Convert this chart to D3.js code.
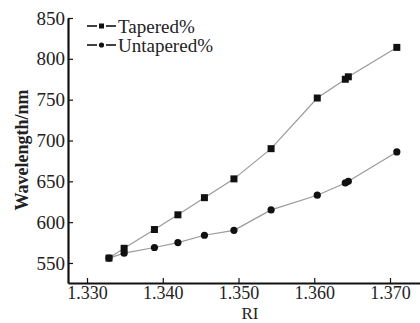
<!DOCTYPE html>
<html>
<head>
<meta charset="utf-8">
<script src="https://cdn.jsdelivr.net/npm/d3@7"></script>
<style>
  body { margin: 0; background: #fff; }
  text { font-family: "Liberation Serif", "DejaVu Serif", serif; }
</style>
</head>
<body>
<svg width="420" height="323"></svg>
<script>
// refractive index readings
var ri = [1.3329, 1.3349, 1.3389, 1.3420, 1.3455, 1.3494, 1.3543, 1.3604, 1.3641, 1.3645, 1.3709];
var tapered = [556, 568, 591, 609, 630, 653, 690, 752, 775, 778, 814];
var untapered = [556, 562, 569, 575, 584, 590, 615, 633, 648, 650, 686];
var xTicks = [1.330, 1.340, 1.350, 1.360, 1.370];
var yTicks = [550, 600, 650, 700, 750, 800, 850];
var seriesNames = ["Tapered%", "Untapered%"];

var svg = d3.select("svg");

var x = d3.scaleLinear().domain([1.32749, 1.37396]).range([68, 420]);
var y = d3.scaleLinear().domain([525.5, 850]).range([283, 18]);

// axes, ticks pointing inward
var xAxis = svg.append("g")
    .attr("transform", "translate(0,283)")
    .call(d3.axisBottom(x).tickValues(xTicks).tickFormat(d3.format(".3f"))
      .tickSizeInner(-5).tickSizeOuter(0).tickPadding(3));

var yAxis = svg.append("g")
    .attr("transform", "translate(68,0)")
    .call(d3.axisLeft(y).tickValues(yTicks)
      .tickSizeInner(-5).tickSizeOuter(0).tickPadding(3));

svg.selectAll(".domain").attr("stroke", "#111").attr("stroke-width", 2.2);
svg.selectAll(".tick line").attr("stroke", "#111").attr("stroke-width", 1.2);
svg.selectAll(".tick text")
    .attr("font-family", "Liberation Serif")
    .attr("font-size", 19)
    .attr("fill", "#222");
xAxis.selectAll(".tick text").attr("font-size", 18).attr("dy", "0.71em");

// axis titles
svg.append("text")
    .attr("x", 250).attr("y", 319)
    .attr("text-anchor", "middle")
    .attr("font-size", 17)
    .attr("fill", "#222")
    .text("RI");

svg.append("text")
    .attr("transform", "translate(28,150) rotate(-90)")
    .attr("text-anchor", "middle")
    .attr("font-size", 18)
    .attr("font-weight", "bold")
    .attr("fill", "#222")
    .text("Wavelength/nm");

// lines
var line = d3.line()
    .x(function(d) { return x(d[0]); })
    .y(function(d) { return y(d[1]); });

var tapPts = ri.map(function(r, i) { return [r, tapered[i]]; });
var untPts = ri.map(function(r, i) { return [r, untapered[i]]; });

svg.append("path").datum(tapPts)
    .attr("d", line).attr("fill", "none")
    .attr("stroke", "#9a9a9a").attr("stroke-width", 1.2);
svg.append("path").datum(untPts)
    .attr("d", line).attr("fill", "none")
    .attr("stroke", "#9a9a9a").attr("stroke-width", 1.2);

svg.append("g").selectAll("rect")
    .data(tapPts)
    .enter().append("rect")
      .attr("x", function(d) { return x(d[0]) - 3.5; })
      .attr("y", function(d) { return y(d[1]) - 3.5; })
      .attr("width", 7).attr("height", 7)
      .attr("fill", "#111");

svg.append("g").selectAll("circle")
    .data(untPts)
    .enter().append("circle")
      .attr("cx", function(d) { return x(d[0]); })
      .attr("cy", function(d) { return y(d[1]); })
      .attr("r", 3.6)
      .attr("fill", "#111");

// legend
var leg = svg.append("g").selectAll("g")
    .data(seriesNames)
    .enter().append("g")
      .attr("transform", function(d, i) { return "translate(87," + (26 + i * 19) + ")"; });

leg.append("line")
    .attr("x1", 0).attr("x2", 10)
    .attr("stroke", "#111").attr("stroke-width", 1.6);
leg.append("line")
    .attr("x1", 19).attr("x2", 29)
    .attr("stroke", "#111").attr("stroke-width", 1.6);
leg.filter(function(d, i) { return i === 0; }).append("rect")
    .attr("x", 12).attr("y", -2.5).attr("width", 5).attr("height", 5).attr("fill", "#111");
leg.filter(function(d, i) { return i === 1; }).append("circle")
    .attr("cx", 14.5).attr("r", 2.6).attr("fill", "#111");
leg.append("text")
    .attr("x", 31).attr("dy", "0.35em")
    .attr("font-size", 19)
    .attr("fill", "#222")
    .text(function(d) { return d; });
</script>
</body>
</html>
